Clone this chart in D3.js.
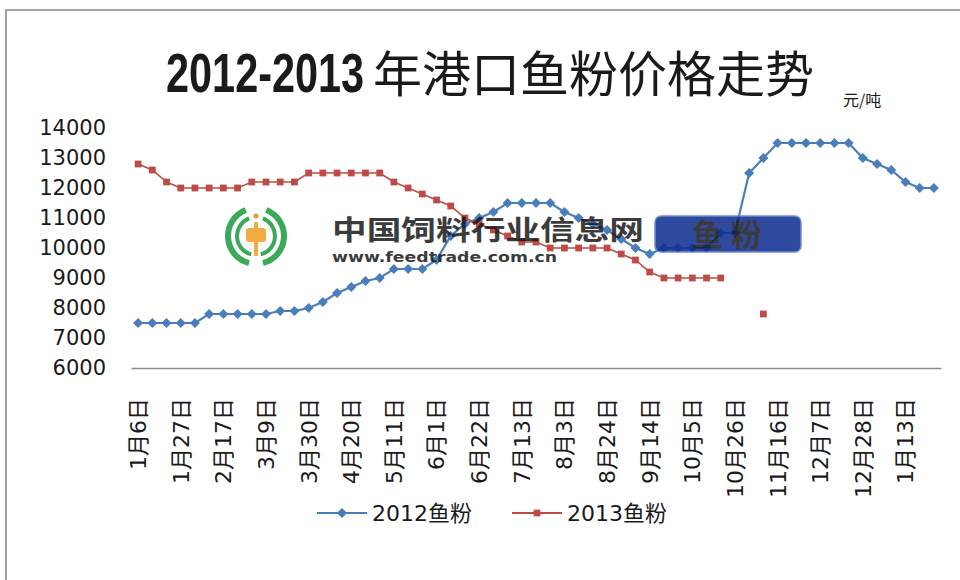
<!DOCTYPE html>
<html lang="zh">
<head>
<meta charset="UTF-8">
<title>2012-2013年港口鱼粉价格走势</title>
<script src="https://d3js.org/d3.v7.min.js"></script>
<style>
  body { margin: 0; background: #fff; }
  svg text { font-family: "DejaVu Sans", "Noto Sans CJK SC", sans-serif; fill: #1a1a1a; }
</style>
</head>
<body>
<svg width="960" height="580"></svg>
<script>
// weekly categories, every 3rd one is labelled
const categories = [
  "1月6日","1月13日","1月20日","1月27日","2月3日","2月10日","2月17日","2月24日","3月2日","3月9日",
  "3月16日","3月23日","3月30日","4月6日","4月13日","4月20日","4月27日","5月4日","5月11日","5月18日",
  "5月25日","6月1日","6月8日","6月15日","6月22日","6月29日","7月6日","7月13日","7月20日","7月27日",
  "8月3日","8月10日","8月17日","8月24日","8月31日","9月7日","9月14日","9月21日","9月28日","10月5日",
  "10月12日","10月19日","10月26日","11月2日","11月9日","11月16日","11月23日","11月30日","12月7日","12月14日",
  "12月21日","12月28日","1月4日","1月9日","1月13日","1月20日","1月27日"
];
const fish2012 = [
  7500,7500,7500,7500,7500,7800,7800,7800,7800,7800,
  7900,7900,8000,8200,8500,8700,8900,9000,9300,9300,
  9300,9600,10400,10800,11000,11200,11500,11500,11500,11500,
  11200,11000,10800,10600,10300,10000,9800,10000,10000,10000,
  10000,10500,10500,12500,13000,13500,13500,13500,13500,13500,
  13500,13000,12800,12600,12200,12000,12000
];
const fish2013 = [
  12800,12600,12200,12000,12000,12000,12000,12000,12200,12200,
  12200,12200,12500,12500,12500,12500,12500,12500,12200,12000,
  11800,11600,11400,11000,10800,10600,10400,10200,10200,10000,
  10000,10000,10000,10000,9800,9600,9200,9000,9000,9000,
  9000,9000,null,null,7800,null,null,null,null,null,
  null,null,null,null,null,null,null
];
const yTicks = [6000,7000,8000,9000,10000,11000,12000,13000,14000];
const seriesNames = ["2012鱼粉","2013鱼粉"];
const blue = "#4a7ebb", red = "#be4b48";

const svg = d3.select("svg");

// chart frame
svg.append("path")
  .attr("d", "M6,580 V10 H960")
  .attr("fill", "none").attr("stroke", "#8a8a8a").attr("stroke-width", 1.6);

// title: condensed bold digits + CJK part
svg.append("text")
  .attr("transform", "translate(166,92) scale(0.74,1)")
  .style("font-family", "'Liberation Sans', Arial, sans-serif")
  .style("font-weight", "bold").style("font-size", "56px")
  .text("2012-2013");
svg.append("text").attr("x", 373).attr("y", 92)
  .style("font-family", "'Noto Sans CJK SC', sans-serif")
  .style("font-size", "49px")
  .text("年港口鱼粉价格走势");

svg.append("text")
  .attr("x", 843).attr("y", 106)
  .style("font-family", "'Noto Sans CJK SC', sans-serif")
  .style("font-size", "16px")
  .text("元/吨");

// scales (categories repeat across the year, so the band domain is the index)
const idx = d3.range(categories.length);
const x = d3.scaleBand().domain(idx).range([131, 941]);
const y = d3.scaleLinear().domain([6000, 14000]).range([368, 128]);
const cx = i => x(i) + x.bandwidth() / 2;

// y axis (labels only, no line)
const yAxis = svg.append("g")
  .attr("transform", "translate(106,0)")
  .call(d3.axisLeft(y).tickValues(yTicks).tickSize(0).tickPadding(0).tickFormat(d3.format("d")));
yAxis.select(".domain").remove();
yAxis.selectAll("text").style("font-size", "21px").style("font-family", "'DejaVu Sans', sans-serif").attr("fill", "#1a1a1a");

// x axis line + rotated labels
const xAxis = svg.append("g")
  .attr("transform", "translate(0,368)")
  .call(d3.axisBottom(x)
    .tickValues(idx.filter(i => i % 3 === 0))
    .tickFormat(i => categories[i])
    .tickSize(0));
xAxis.select(".domain").attr("stroke", "#8c8c8c").attr("stroke-width", 1.3);
xAxis.selectAll("text")
  .style("font-size", "22px")
  .attr("fill", "#1a1a1a")
  .attr("text-anchor", "end")
  .attr("transform", "rotate(-90)")
  .attr("x", -30).attr("y", 0).attr("dy", "0.36em");

// lines
const line = d3.line()
  .defined(d => d != null)
  .x((d, i) => cx(i))
  .y(d => y(d));

svg.append("path").datum(fish2012)
  .attr("d", line).attr("fill", "none").attr("stroke", blue).attr("stroke-width", 2.2);
svg.append("path").datum(fish2013)
  .attr("d", line).attr("fill", "none").attr("stroke", red).attr("stroke-width", 1.6);

const diamond = d3.symbol().type(d3.symbolSquare).size(50);
const square = d3.symbol().type(d3.symbolSquare).size(46);

svg.append("g").selectAll("path")
  .data(fish2012.map((v, i) => [i, v]).filter(d => d[1] != null))
  .join("path")
  .attr("d", diamond)
  .attr("transform", d => `translate(${cx(d[0])},${y(d[1])}) rotate(45)`)
  .attr("fill", blue);

svg.append("g").selectAll("path")
  .data(fish2013.map((v, i) => [i, v]).filter(d => d[1] != null))
  .join("path")
  .attr("d", square)
  .attr("transform", d => `translate(${cx(d[0])},${y(d[1])})`)
  .attr("fill", red);

// watermark overlay
const wm = svg.append("g").attr("opacity", 0.85);
const lc = [256, 236];
const arc = d3.arc();
const green = "#1b9a3e";
[[31, 25], [21, 17]].forEach(([ro, ri]) => {
  [[-Math.PI * 0.92, -Math.PI * 0.12], [Math.PI * 0.12, Math.PI * 0.92]].forEach(([a0, a1]) => {
    wm.append("path")
      .attr("d", arc({ innerRadius: ri, outerRadius: ro, startAngle: a0, endAngle: a1 }))
      .attr("transform", `translate(${lc[0]},${lc[1]})`)
      .attr("fill", green);
  });
});
wm.append("rect").attr("x", lc[0] - 10).attr("y", lc[1] - 8).attr("width", 20).attr("height", 14).attr("rx", 3).attr("fill", "#f0a020");
wm.append("rect").attr("x", lc[0] - 2).attr("y", lc[1] - 14).attr("width", 4).attr("height", 34).attr("fill", "#f0a020");
wm.append("circle").attr("cx", lc[0]).attr("cy", lc[1] - 20).attr("r", 2.5).attr("fill", "#e08a20");

wm.append("text")
  .attr("x", 332).attr("y", 240)
  .attr("textLength", 312).attr("lengthAdjust", "spacingAndGlyphs")
  .style("font-family", "'Noto Sans CJK SC', sans-serif")
  .style("font-weight", "bold").style("font-size", "27px")
  .attr("fill", "#3a3a3a")
  .text("中国饲料行业信息网");
wm.append("text")
  .attr("x", 332).attr("y", 262)
  .attr("textLength", 225).attr("lengthAdjust", "spacingAndGlyphs")
  .style("font-family", "'DejaVu Sans', sans-serif")
  .style("font-weight", "bold").style("font-size", "14px")
  .attr("fill", "#3a3a3a")
  .text("www.feedtrade.com.cn");

wm.append("rect")
  .attr("x", 655).attr("y", 216).attr("width", 146).attr("height", 36).attr("rx", 6)
  .attr("fill", "#0b2a8f").attr("stroke", "#5a78c8").attr("stroke-width", 1.5);
wm.append("text")
  .attr("x", 731).attr("y", 246)
  .attr("text-anchor", "middle")
  .style("font-family", "'Noto Sans CJK SC', sans-serif")
  .style("font-weight", "bold").style("font-size", "31px")
  .style("letter-spacing", "8px")
  .attr("fill", "#fff")
  .text("鱼粉");

// legend
const legend = svg.append("g").attr("transform", "translate(0,513)");
const legendItems = [
  { name: seriesNames[0], color: blue, x0: 317, marker: diamond, rot: 45 },
  { name: seriesNames[1], color: red, x0: 512, marker: square, rot: 0 }
];
legendItems.forEach(it => {
  legend.append("line")
    .attr("x1", it.x0).attr("x2", it.x0 + 50).attr("y1", 0).attr("y2", 0)
    .attr("stroke", it.color).attr("stroke-width", 2.2);
  legend.append("path")
    .attr("d", it.marker)
    .attr("transform", `translate(${it.x0 + 25},0) rotate(${it.rot})`)
    .attr("fill", it.color);
  legend.append("text")
    .attr("x", it.x0 + 55).attr("y", 0).attr("dy", "0.36em")
    .style("font-size", "22px")
    .text(it.name);
});
</script>
</body>
</html>
